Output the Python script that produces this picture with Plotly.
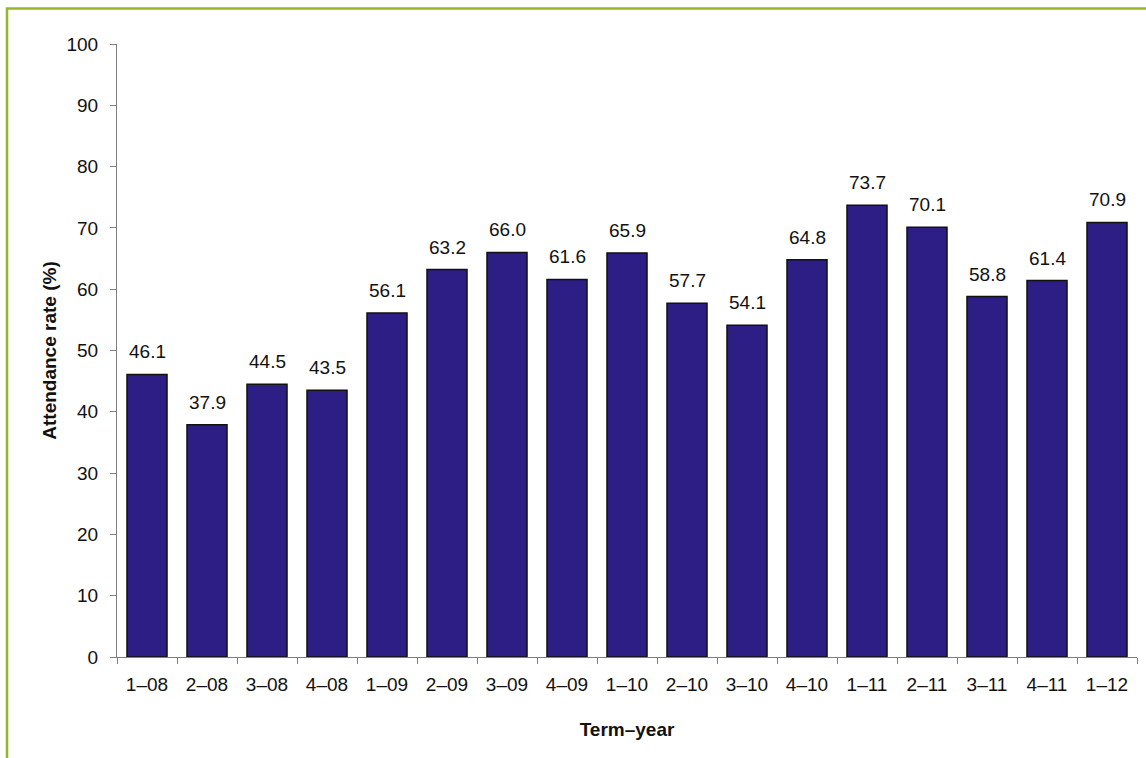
import plotly.graph_objects as go

categories = ["1–08", "2–08", "3–08", "4–08", "1–09", "2–09", "3–09", "4–09",
              "1–10", "2–10", "3–10", "4–10", "1–11", "2–11", "3–11", "4–11", "1–12"]
attendance = [46.1, 37.9, 44.5, 43.5, 56.1, 63.2, 66.0, 61.6,
              65.9, 57.7, 54.1, 64.8, 73.7, 70.1, 58.8, 61.4, 70.9]

W, H = 1146, 758
L, R, T, B = 117, 9, 44, 101
pw, ph = W - L - R, H - T - B

def px(x):
    return (x - L) / pw

def py(y):
    return (H - B - y) / ph

FONT = "Liberation Sans, Arial, sans-serif"

fig = go.Figure(go.Bar(
    x=categories, y=attendance,
    marker=dict(color="#2d1e86", line=dict(color="#111111", width=1.5)),
))

for c, v in zip(categories, attendance):
    fig.add_annotation(x=c, y=v, text=f"{v:.1f}", showarrow=False,
                       yanchor="bottom", yshift=10,
                       font=dict(size=19, color="#111111", family=FONT))

fig.update_layout(
    width=W, height=H,
    margin=dict(l=L, r=R, t=T, b=B),
    paper_bgcolor="white", plot_bgcolor="white",
    font=dict(family=FONT, size=19, color="#111111"),
    bargap=0.333,
    showlegend=False,
    xaxis=dict(
        showline=True, linecolor="#7f7f7f", linewidth=1,
        ticks="outside", ticklen=6, tickcolor="#7f7f7f", tickson="boundaries",
        ticklabelstandoff=10,
        title=dict(text="<b>Term–year</b>", font=dict(size=19), standoff=28),
        showgrid=False,
    ),
    yaxis=dict(
        range=[0, 100], dtick=10, showline=True, linecolor="#7f7f7f", linewidth=1,
        ticks="outside", ticklen=6, tickcolor="#7f7f7f", ticklabelstandoff=8,
        title=dict(text="<b>Attendance rate (%)</b>", font=dict(size=19), standoff=4),
        showgrid=False, zeroline=False,
    ),
    shapes=[dict(
        type="path", xref="paper", yref="paper",
        path=f"M {px(7)} {py(H+5)} L {px(7)} {py(8.5)} L {px(W+5)} {py(8.5)}",
        line=dict(color="#95b828", width=2.5),
    )],
)

fig.write_html("out.html", config={"displayModeBar": False},
               post_script="document.body.style.margin='0';")
